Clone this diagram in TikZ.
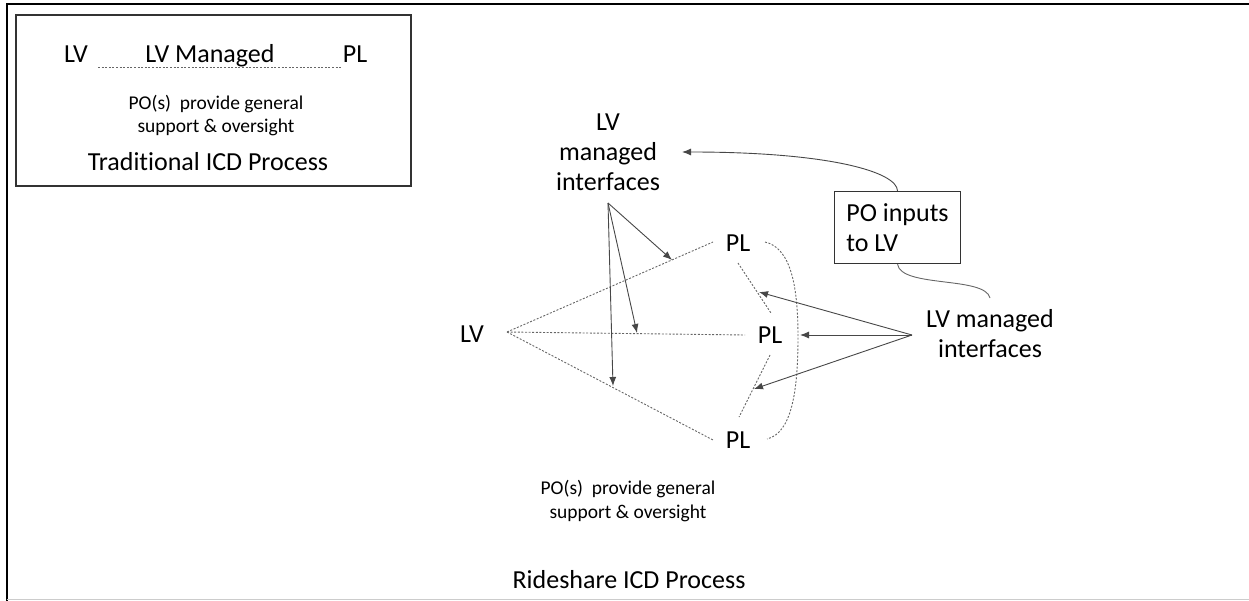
\documentclass[tikz,border=0pt]{standalone}
\usepackage{fontspec}
\setmainfont{Carlito}[Ligatures={NoCommon}]
\usetikzlibrary{arrows.meta}
\begin{document}
\begin{tikzpicture}[x=1pt,y=-1pt,
  lbl/.style={font=\fontsize{26}{30}\selectfont, inner sep=0pt, text=black},
  small/.style={font=\fontsize{19.5}{23.5}\selectfont, align=center, inner sep=0pt, text=black},
  dotl/.style={draw=black!60, line width=0.9pt, dash pattern=on 2pt off 1.6pt},
  arr/.style={draw=black!72, line width=0.9pt, -{Latex[length=9pt,width=7pt]}},
  plain/.style={draw=black!60, line width=0.9pt},
  frameline/.style={draw=black, line width=2pt},
  boxstyle/.style={draw=black!80, line width=1.3pt},
]
\useasboundingbox (0,0) rectangle (1249,601);
% outer frame
\draw[frameline] (6.5,601) -- (6.5,4.5) -- (1249,4.5);
\draw[draw=black!20, line width=1.5pt] (6.5,599.5) -- (1249,599.5);

% traditional box
\node[boxstyle, minimum width=395pt, minimum height=171pt, inner sep=0pt] (tradbox) at (213.5,100.5) {};
\node[lbl, anchor=base] (tlv) at (76,63) {LV};
\node[lbl, anchor=base] (tpl) at (355,63) {PL};
\node[lbl, anchor=base] (tman) at (210,63) {LV Managed};
\coordinate (td1) at (98,67);
\coordinate (td2) at (342,67);
\draw[dotl] (td1) -- (td2);
\node[small] (tpo) at (216,115.5) {PO(s)~~provide general\\support \& oversight};
\node[lbl] (ttitle) at (208,162) {Traditional ICD Process};

% rideshare
\node[lbl] (lv) at (472,334) {LV};
\coordinate (apex) at (507,332);
\node[lbl] (pl1) at (738,243) {PL};
\node[lbl] (pl2) at (770,335) {PL};
\node[lbl] (pl3) at (738,440) {PL};
\coordinate (e1) at (713,242);
\coordinate (e2) at (745,335);
\coordinate (e3) at (713,440);
\draw[dotl] (apex) -- (e1);
\draw[dotl] (apex) -- (e2);
\draw[dotl] (apex) -- (e3);
\coordinate (s1a) at (738,263);
\coordinate (s1b) at (771,313);
\coordinate (s2a) at (770,355);
\coordinate (s2b) at (739,417);
\draw[dotl] (s1a) -- (s1b);
\draw[dotl] (s2a) -- (s2b);
\coordinate (arcA) at (765,242);
\coordinate (arcB) at (798,337);
\coordinate (arcC) at (767,439);
\draw[dotl] (arcA) .. controls (792,248) and (798,290) .. (arcB) .. controls (798,390) and (792,433) .. (arcC);

% top label and arrows
\node[lbl, align=center] (toplab) at (608,152) {LV\\managed\\interfaces};
\coordinate (topsrc) at (608,203);
\coordinate (t1) at (672,260);
\coordinate (t2) at (637,333);
\coordinate (t3) at (613,386);
\draw[arr] (topsrc) -- (t1);
\draw[arr] (topsrc) -- (t2);
\draw[arr] (topsrc) -- (t3);

% right label and arrows
\node[lbl, align=center] (rightlab) at (990,334) {LV managed\\interfaces};
\coordinate (rsrc) at (912,335);
\coordinate (r1) at (759,292);
\coordinate (r2) at (800,335);
\coordinate (r3) at (754,389);
\draw[arr] (rsrc) -- (r1);
\draw[arr] (rsrc) -- (r2);
\draw[arr] (rsrc) -- (r3);

% PO inputs box
\node[boxstyle, font=\fontsize{26}{30}\selectfont, text=black, align=left, inner sep=0pt, minimum width=126pt, minimum height=72pt] (pobox) at (897.5,227.5) {PO inputs\\to LV};
\coordinate (t0) at (682,152);
\draw[arr] (pobox.north) .. controls (897,172) and (830,152) .. (t0);
\coordinate (w) at (990,298);
\draw[plain] (pobox.south) .. controls (901,288) and (985,276) .. (w);

% bottom texts
\node[small] (posmall) at (628,501) {PO(s)~~provide general\\support \& oversight};
\node[lbl] (ride) at (629,580) {Rideshare ICD Process};
\end{tikzpicture}
\end{document}
